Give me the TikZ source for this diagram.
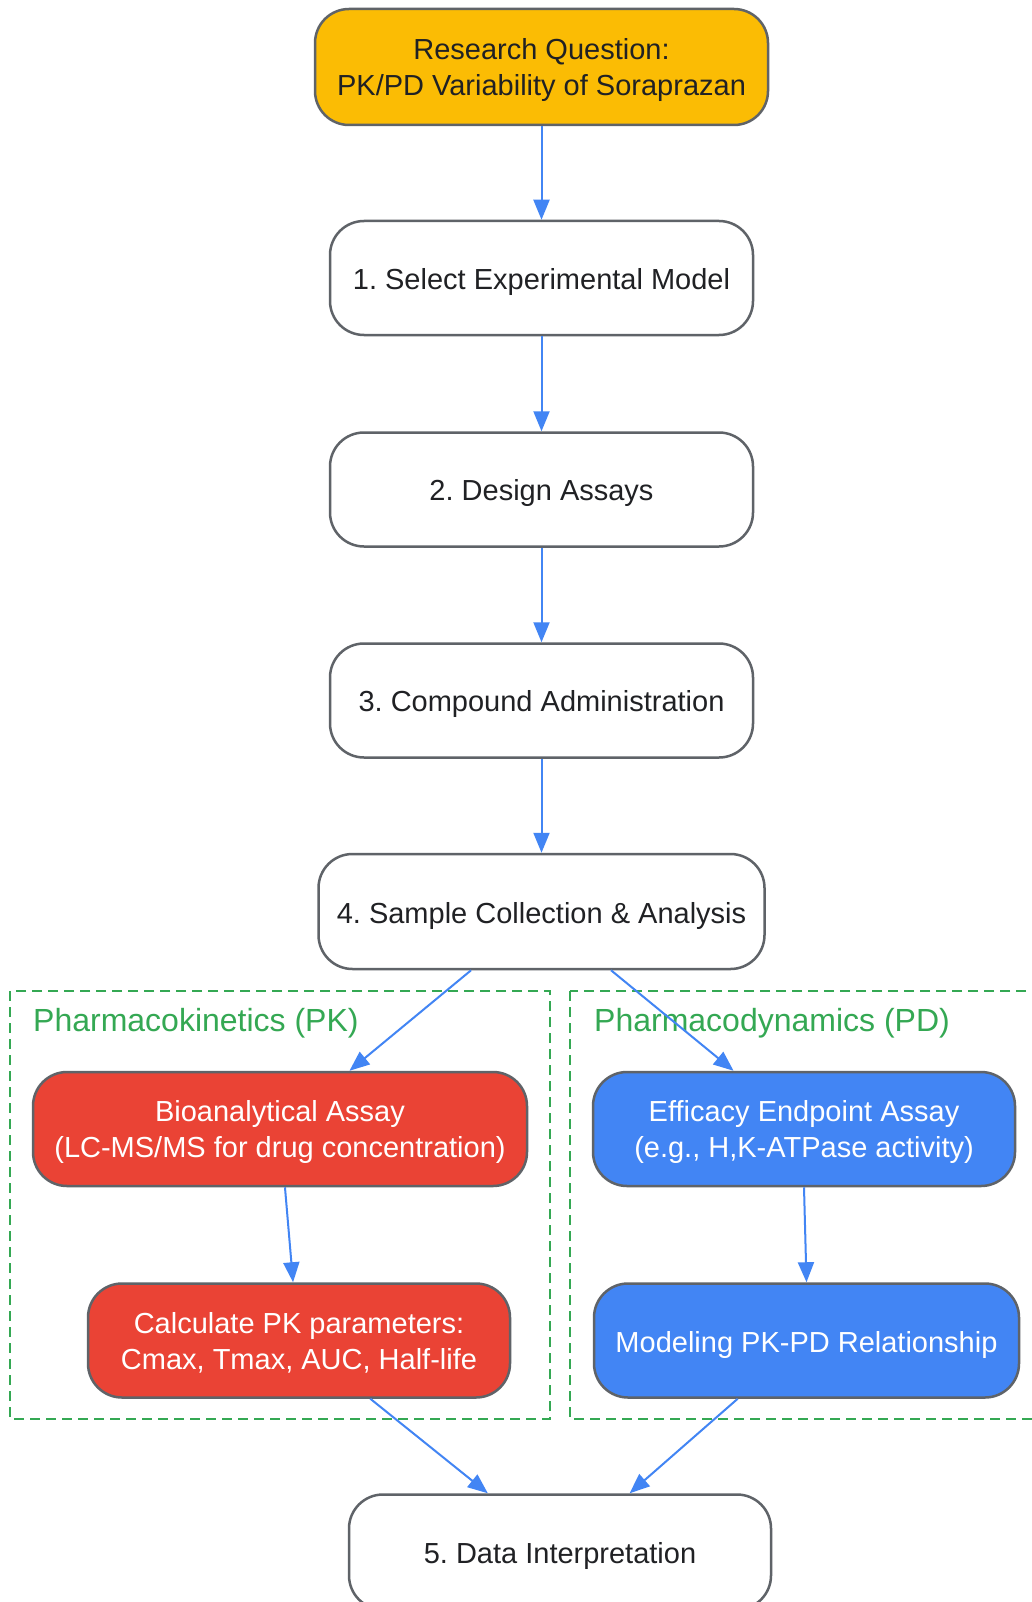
\documentclass[tikz,border=0pt]{standalone}
\usepackage{fontspec}
\setmainfont{Liberation Sans}
\usetikzlibrary{arrows.meta,calc}
\definecolor{gy}{HTML}{FBBC04}
\definecolor{rd}{HTML}{EA4335}
\definecolor{bl}{HTML}{4285F4}
\definecolor{gn}{HTML}{34A853}
\definecolor{bd}{HTML}{5F6368}
\definecolor{tx}{HTML}{202124}
\begin{document}
\frenchspacing
\begin{tikzpicture}[x=1pt,y=-1pt,
 box/.style={draw=bd,line width=2.5pt,rounded corners=34pt,align=center,inner sep=0pt,font=\fontsize{29}{36}\selectfont,text=tx,fill=white},
 oneline/.style={execute at begin node={\rule{0pt}{29pt}}},
 twoline/.style={text depth=0pt},
 arr/.style={draw=bl,line width=2pt,-{Triangle[length=20pt,width=16pt]}},
 clus/.style={draw=gn,line width=2.2pt,dash pattern=on 10pt off 6pt},
 clab/.style={text=gn,anchor=west,font=\fontsize{32}{36}\selectfont,inner sep=0pt}]
\useasboundingbox (0,0) rectangle (1031,1602);
\fill[white] (0,0) rectangle (1031,1602);

% clusters
\draw[clus] (10,991) rectangle (550,1419);
\draw[clus] (570,991) rectangle (1050,1419);
\node[clab] (pklab) at (33,1023) {Pharmacokinetics (PK)};
\node[clab] (pdlab) at (594,1023) {Pharmacodynamics (PD)};

% nodes
\node[box,twoline,fill=gy,minimum width=453pt,minimum height=116pt] (top) at (541.5,67) {Research Question:\\PK/PD Variability of Soraprazan};
\node[box,oneline,minimum width=423pt,minimum height=114pt] (n1) at (541.5,278) {1. Select Experimental Model};
\node[box,oneline,minimum width=423pt,minimum height=114pt] (n2) at (541.5,489.5) {2. Design Assays};
\node[box,oneline,minimum width=423pt,minimum height=114pt] (n3) at (541.5,700.5) {3. Compound Administration};
\node[box,oneline,minimum width=446pt,minimum height=115pt] (n4) at (541.5,911.5) {4. Sample Collection \& Analysis};
\node[box,twoline,fill=rd,text=white,minimum width=494pt,minimum height=114pt] (bio) at (280,1129) {Bioanalytical Assay\\(LC-MS/MS for drug concentration)};
\node[box,twoline,fill=rd,text=white,minimum width=422pt,minimum height=114pt] (calc) at (299,1340.5) {Calculate PK parameters:\\Cmax, Tmax, AUC, Half-life};
\node[box,twoline,fill=bl,text=white,minimum width=422pt,minimum height=114pt] (eff) at (804,1129) {Efficacy Endpoint Assay\\(e.g., H,K-ATPase activity)};
\node[box,oneline,fill=bl,text=white,minimum width=425pt,minimum height=114pt] (mod) at (806.5,1340.5) {Modeling PK-PD Relationship};
\node[box,oneline,minimum width=422pt,minimum height=115pt] (n5) at (560,1552) {5. Data Interpretation};

% connectors
\draw[arr] (top.south) -- (n1.north);
\draw[arr] (n1.south) -- (n2.north);
\draw[arr] (n2.south) -- (n3.north);
\draw[arr] (n3.south) -- (n4.north);
\draw[arr] ($(n4.south west)!0.343!(n4.south east)$) -- ($(bio.north west)!0.64!(bio.north east)$);
\draw[arr] ($(n4.south west)!0.655!(n4.south east)$) -- ($(eff.north west)!0.334!(eff.north east)$);
\draw[arr] ($(bio.south west)!0.51!(bio.south east)$) -- ($(calc.north west)!0.486!(calc.north east)$);
\draw[arr] (eff.south) -- (mod.north);
\draw[arr] ($(calc.south west)!0.668!(calc.south east)$) -- ($(n5.north west)!0.33!(n5.north east)$);
\draw[arr] ($(mod.south west)!0.339!(mod.south east)$) -- ($(n5.north west)!0.664!(n5.north east)$);
\end{tikzpicture}
\end{document}
